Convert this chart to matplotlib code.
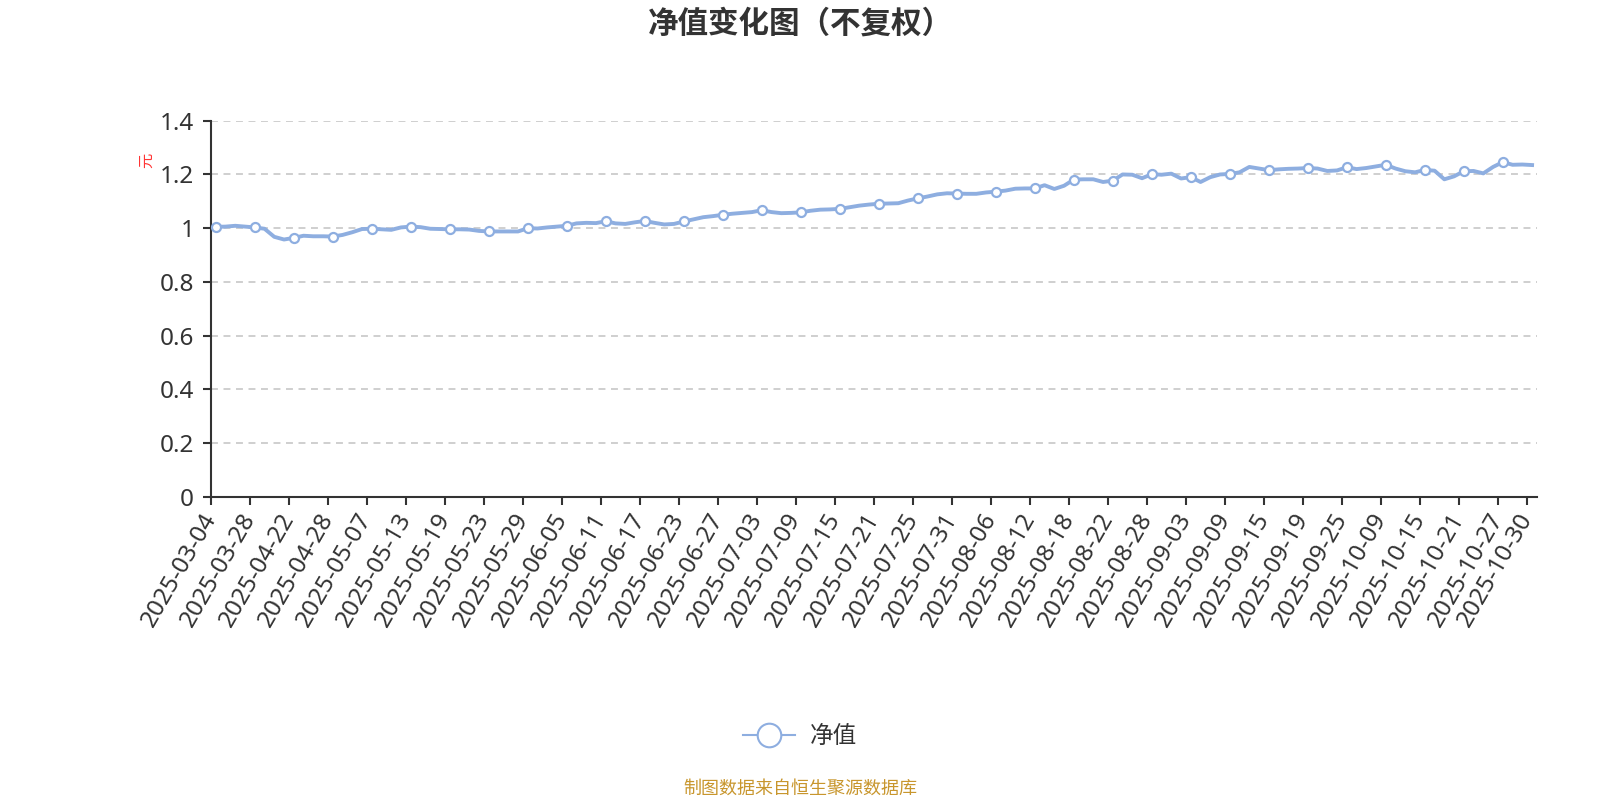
import matplotlib
matplotlib.use("Agg")
import matplotlib.pyplot as plt
from matplotlib.lines import Line2D

plt.rcParams['font.family'] = ['Noto Sans', 'Noto Sans CJK SC', 'DejaVu Sans']
plt.rcParams['lines.scale_dashes'] = False

# 净值数据（每个交易日一个点）
nav = [
    1.005, 1.006, 1.009, 1.006, 1.003, 0.998, 0.968, 0.958, 0.964, 0.972,
    0.970, 0.970, 0.969, 0.975, 0.985, 0.997, 0.998, 0.996, 0.994, 1.003,
    1.006, 1.004, 0.998, 0.997, 0.996, 0.996, 0.995, 0.990, 0.988, 0.988,
    0.988, 0.988, 1.000, 0.999, 1.003, 1.006, 1.009, 1.018, 1.020, 1.019,
    1.026, 1.018, 1.016, 1.022, 1.027, 1.020, 1.014, 1.016, 1.025, 1.033,
    1.041, 1.045, 1.050, 1.054, 1.057, 1.060, 1.067, 1.060, 1.056, 1.057,
    1.059, 1.065, 1.069, 1.070, 1.072, 1.078, 1.084, 1.088, 1.091, 1.092,
    1.093, 1.103, 1.111, 1.118, 1.126, 1.130, 1.129, 1.128, 1.128, 1.133,
    1.136, 1.140, 1.147, 1.148, 1.148, 1.160, 1.146, 1.158, 1.181, 1.182,
    1.182, 1.172, 1.177, 1.200, 1.199, 1.186, 1.201, 1.199, 1.203, 1.185,
    1.190, 1.172, 1.190, 1.200, 1.202, 1.208, 1.228, 1.222, 1.216, 1.219,
    1.221, 1.222, 1.224, 1.222, 1.213, 1.215, 1.227, 1.220, 1.224, 1.230,
    1.236, 1.222, 1.212, 1.208, 1.217, 1.214, 1.182, 1.193, 1.212, 1.213,
    1.204, 1.228, 1.246, 1.236, 1.237, 1.235,
]

# 横轴显示的日期及其所在的数据序号
tick_labels = [
    '2025-03-04', '2025-03-28', '2025-04-22', '2025-04-28', '2025-05-07',
    '2025-05-13', '2025-05-19', '2025-05-23', '2025-05-29', '2025-06-05',
    '2025-06-11', '2025-06-17', '2025-06-23', '2025-06-27', '2025-07-03',
    '2025-07-09', '2025-07-15', '2025-07-21', '2025-07-25', '2025-07-31',
    '2025-08-06', '2025-08-12', '2025-08-18', '2025-08-22', '2025-08-28',
    '2025-09-03', '2025-09-09', '2025-09-15', '2025-09-19', '2025-09-25',
    '2025-10-09', '2025-10-15', '2025-10-21', '2025-10-27', '2025-10-30',
]
tick_idx = list(range(0, 133, 4)) + [135]
marker_idx = list(range(0, 133, 4))

yticks = [0, 0.2, 0.4, 0.6, 0.8, 1.0, 1.2, 1.4]
ytick_labels = ['0', '0.2', '0.4', '0.6', '0.8', '1', '1.2', '1.4']

line_color = '#8eaee0'
text_color = '#333333'

fig = plt.figure(figsize=(16, 8), dpi=100)
ax = fig.add_axes([0.1318, 0.37875, 0.9606 - 0.1318, 0.84912 - 0.37875])

x = list(range(len(nav)))
ax.plot(x, nav, color=line_color, lw=2.8, zorder=3)
ax.plot(marker_idx, [nav[i] for i in marker_idx], ls='none', marker='o',
        ms=6.5, mfc='white', mec=line_color, mew=1.6, zorder=4)

ax.set_xlim(-0.5, len(nav) - 0.5)
ax.set_ylim(0, 1.4)

ax.set_yticks(yticks)
ax.set_yticklabels(ytick_labels)
ax.set_xticks([i - 0.5 for i in tick_idx])
ax.set_xticklabels(tick_labels, rotation=60, ha='right', va='center',
                   rotation_mode='anchor')

ax.tick_params(axis='y', labelsize=17.5, colors=text_color, length=6, width=1.5, pad=6)
ax.tick_params(axis='x', labelsize=17.5, colors=text_color, length=6, width=1.5, pad=7)

for s in ['top', 'right']:
    ax.spines[s].set_visible(False)
for s in ['left', 'bottom']:
    ax.spines[s].set_color(text_color)
    ax.spines[s].set_linewidth(1.5)

ax.yaxis.grid(True, color='#cccccc', lw=1.3, dashes=(5, 4))
ax.set_axisbelow(True)

fig.text(0.5, 1 - 25 / 800, '净值变化图（不复权）', ha='center', va='center',
         fontsize=22, fontweight='bold', color=text_color)
fig.text(148 / 1600, 1 - 160 / 800, '元', rotation=90, ha='center', va='center',
         fontsize=11, color='#ff3333')

handle = Line2D([], [], color=line_color, lw=1.5, marker='o', ms=17,
                mfc='white', mec=line_color, mew=1.5)
fig.legend([handle], ['净值'], loc='center', bbox_to_anchor=(0.5, 1 - 737 / 800),
           frameon=False, fontsize=17, handlelength=2.2, handletextpad=0.6,
           labelcolor=text_color)

fig.text(0.5, 1 - 789 / 800, '制图数据来自恒生聚源数据库', ha='center', va='center',
         fontsize=13, color='#c8962d')

plt.savefig('out.png', dpi=100)
